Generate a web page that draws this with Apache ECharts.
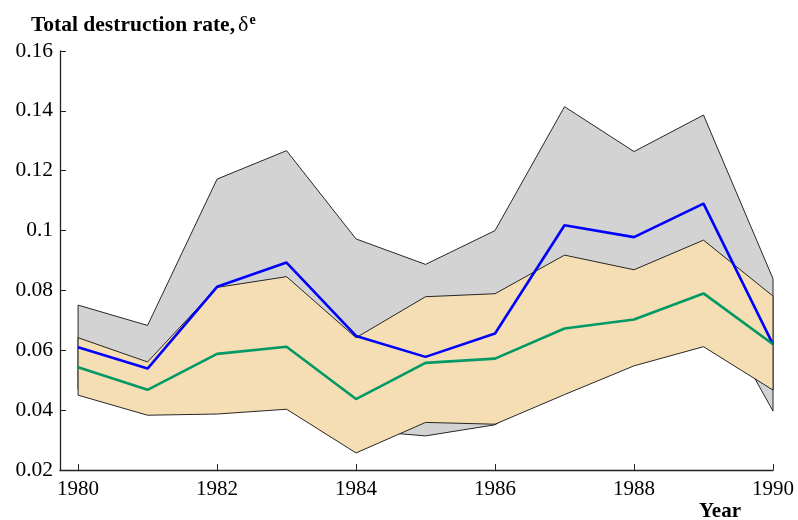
<!DOCTYPE html>
<html>
<head>
<meta charset="utf-8">
<script src="https://cdn.jsdelivr.net/npm/echarts@6/dist/echarts.min.js"></script>
<style>
  html, body { margin: 0; padding: 0; background: #fff; }
  #chart { width: 798px; height: 520px; }
</style>
</head>
<body>
<div id="chart"></div>
<script>
// values
const years = [1980, 1981, 1982, 1983, 1984, 1985, 1986, 1987, 1988, 1989, 1990];
const greyUpper = [0.0751, 0.0683, 0.1172, 0.1267, 0.0972, 0.0887, 0.1000, 0.1414, 0.1264, 0.1386, 0.0839];
const greyLower = [0.0470, 0.0400, 0.0450, 0.0420, 0.0333, 0.0314, 0.0351, 0.0500, 0.0600, 0.0812, 0.0397];
const tanUpper = [0.0642, 0.0561, 0.0810, 0.0846, 0.0642, 0.0779, 0.0789, 0.0918, 0.0869, 0.0968, 0.0781];
const tanLower = [0.0450, 0.0383, 0.0387, 0.0403, 0.0257, 0.0359, 0.0353, 0.0452, 0.0548, 0.0612, 0.0467];
const blueSeries = [0.0610, 0.0539, 0.0812, 0.0893, 0.0648, 0.0578, 0.0656, 0.1018, 0.0978, 0.1090, 0.0620];
const greenSeries = [0.0543, 0.0468, 0.0588, 0.0612, 0.0437, 0.0558, 0.0572, 0.0673, 0.0703, 0.0790, 0.0620];
const xTickYears = [1980, 1982, 1984, 1986, 1988, 1990];

const FONT = 'Liberation Serif';

var chartDom = document.getElementById('chart');
var myChart = echarts.init(chartDom);

// band drawn as one closed polygon through the axis scales
function bandSeries(lower, upper, fill) {
  return {
    type: 'custom',
    silent: true,
    data: years.map((y, i) => [y, lower[i], upper[i]]),
    encode: { x: 0, y: [1, 2] },
    renderItem: function (params, api) {
      if (params.dataIndex !== 0) return;
      const pts = [];
      years.forEach((y, i) => pts.push(api.coord([y, upper[i]])));
      for (let i = years.length - 1; i >= 0; i--) {
        pts.push(api.coord([years[i], lower[i]]));
      }
      return {
        type: 'polygon',
        shape: { points: pts },
        style: { fill: fill, stroke: '#111', lineWidth: 0.9 }
      };
    }
  };
}

function lineSeries(values, color) {
  return {
    type: 'line',
    data: years.map((y, i) => [y, values[i]]),
    symbol: 'none',
    lineStyle: { color: color, width: 2.6 },
    silent: true
  };
}

var option = {
  animation: false,
  title: {
    text: '{b|Total destruction rate,}{d|δ}{e|e}',
    left: 26,
    top: 8,
    textStyle: {
      rich: {
        b: { fontFamily: FONT, fontWeight: 'bold', fontSize: 21.5, color: '#000' },
        d: { fontFamily: FONT, fontWeight: 'normal', fontSize: 22, color: '#000', padding: [0, 0, 0, 3] },
        e: { fontFamily: FONT, fontWeight: 'bold', fontSize: 14, color: '#000', verticalAlign: 'top', padding: [0, 0, 10, 1] }
      }
    }
  },
  graphic: [{
    type: 'text',
    left: 699,
    top: 501,
    style: { text: 'Year', font: 'bold 21px "Liberation Serif"', fill: '#000' }
  }],
  grid: { left: 60, right: 25, top: 51, bottom: 50 },
  xAxis: {
    type: 'value',
    min: 1979.74,
    max: 1990,
    splitLine: { show: false },
    axisLine: { lineStyle: { color: '#222', width: 1.3 } },
    axisTick: { inside: true, length: 6, customValues: xTickYears, lineStyle: { color: '#222' } },
    axisLabel: {
      customValues: xTickYears,
      formatter: (v) => String(Math.round(v)),
      fontFamily: FONT, fontSize: 21, color: '#000', margin: 9
    }
  },
  yAxis: {
    type: 'value',
    min: 0.02,
    max: 0.16,
    interval: 0.02,
    splitLine: { show: false },
    axisLine: { show: true, lineStyle: { color: '#222', width: 1.3 } },
    axisTick: { inside: true, length: 6, lineStyle: { color: '#222' } },
    axisLabel: {
      fontFamily: FONT, fontSize: 21.5, color: '#000', margin: 7,
      formatter: (v) => String(+v.toFixed(2))
    }
  },
  series: [
    bandSeries(greyLower, greyUpper, '#d3d3d3'),
    bandSeries(tanLower, tanUpper, '#f5deb3'),
    lineSeries(blueSeries, '#0000ff'),
    lineSeries(greenSeries, '#009966')
  ]
};

myChart.setOption(option);
</script>
</body>
</html>
